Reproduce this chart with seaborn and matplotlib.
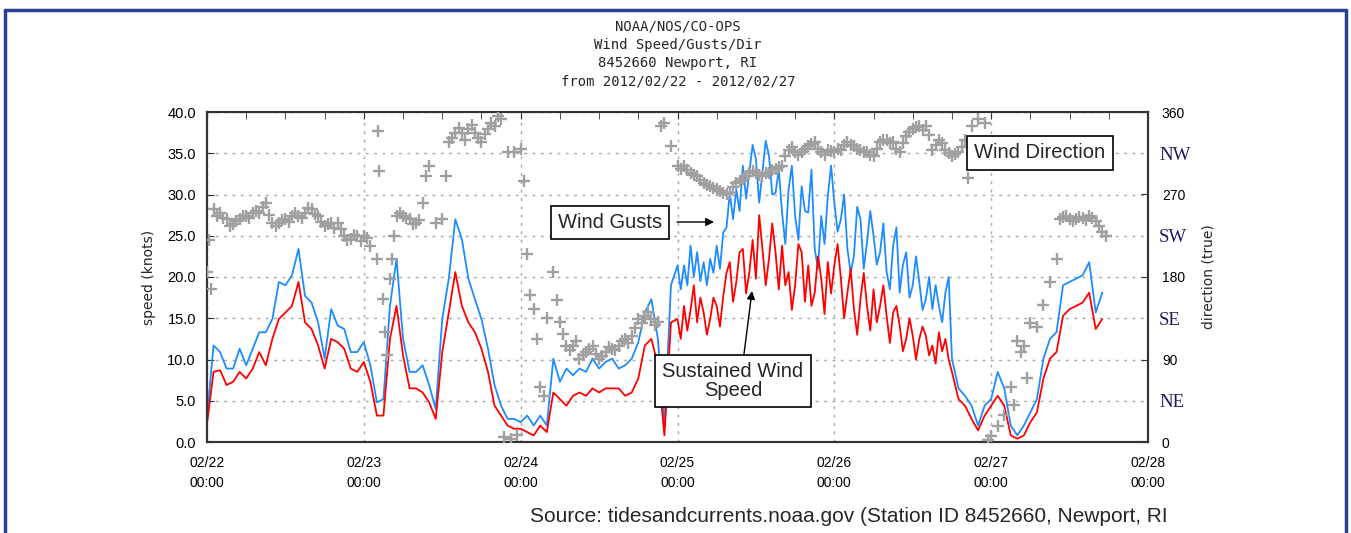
import numpy as np
import pandas as pd
import matplotlib
matplotlib.use('Agg')
import matplotlib.pyplot as plt
import matplotlib.dates as mdates
from matplotlib.lines import Line2D
import seaborn as sns

# hourly readings from 2012/02/22 00:00 (knots)
start = pd.Timestamp('2012-02-22 00:00')
gusts = [3.0, 11.7, 10.9, 8.9, 8.9, 11.3, 9.3, 11.3, 13.3, 13.3,
         14.9, 19.4, 19.0, 20.2, 23.4, 17.7, 16.9, 14.5, 10.1, 16.1,
         14.1, 13.7, 10.9, 10.9, 12.1, 9.3, 4.8, 5.2, 16.5, 22.2,
         12.5, 8.5, 8.5, 9.3, 6.9, 4.0, 14.9, 19.8, 27.0, 24.6,
         19.8, 17.3, 14.9, 11.3, 6.9, 4.4, 2.8, 2.8, 2.4, 3.2,
         2.0, 3.2, 2.0, 10.1, 7.3, 8.9, 8.1, 8.9, 8.5, 10.1,
         8.9, 9.7, 10.1, 8.9, 9.3, 10.1, 12.1, 15.7, 17.3, 12.5,
         2.0, 19.0, 21.4, 21.4, 23.8, 23.0, 21.8, 22.2, 23.8, 25.4,
         30.2, 30.6, 33.5, 32.7, 34.3, 32.7, 34.7, 30.2, 27.8, 30.6,
         27.4, 31.0, 27.8, 23.4, 27.4, 29.8, 29.0, 27.0, 23.4, 22.6,
         27.0, 24.2, 25.0, 23.0, 20.6, 23.8, 18.1, 23.0, 19.0, 19.4,
         17.3, 16.1, 16.5, 18.1, 10.1, 6.5, 5.6, 4.4, 2.0, 4.4,
         5.2, 8.5, 6.5, 2.0, 0.8, 2.0, 3.6, 5.2, 10.1, 12.5,
         13.3, 19.0, 19.4, 19.8, 20.2, 21.8, 15.7, 18.1]
sustained = [2.2, 8.5, 8.7, 6.9, 7.3, 8.5, 7.7, 8.9, 10.9, 9.3,
             12.5, 14.9, 15.7, 16.5, 19.4, 14.5, 13.7, 11.7, 8.9, 12.5,
             12.1, 11.3, 8.9, 8.5, 9.7, 7.3, 3.2, 3.2, 12.5, 16.5,
             10.5, 6.5, 6.5, 6.0, 4.8, 2.8, 10.9, 15.7, 20.6, 16.5,
             14.5, 13.3, 11.3, 8.5, 4.4, 3.2, 2.0, 1.6, 1.6, 1.2,
             0.8, 2.0, 1.2, 6.0, 5.2, 4.4, 5.6, 6.0, 5.6, 6.5,
             6.0, 6.5, 6.5, 6.5, 5.6, 6.0, 7.7, 11.7, 12.5, 9.3,
             0.8, 14.5, 14.9, 16.5, 16.0, 14.5, 15.7, 14.9, 16.5, 17.7,
             21.8, 19.4, 23.4, 20.6, 19.8, 23.4, 22.2, 23.0, 23.8, 20.6,
             19.0, 23.0, 21.4, 18.1, 19.8, 21.8, 21.4, 19.8, 18.1, 16.1,
             17.3, 16.5, 18.5, 16.5, 15.3, 15.7, 14.1, 12.5, 12.9, 12.5,
             12.9, 11.7, 13.3, 12.5, 8.5, 5.2, 4.4, 2.8, 1.4, 3.2,
             4.4, 5.6, 4.4, 0.8, 0.4, 0.8, 2.4, 3.6, 7.7, 10.1,
             10.9, 15.3, 16.1, 16.5, 16.9, 18.1, 13.7, 14.9]

# extra half-hour readings during the gusty spell, 02/25 00:30 .. 02/26 17:30
half_start = 72.5
gusts_half = [18.5, 19.0, 20.0, 19.5, 19.0, 20.5, 21.0, 26.0, 27.0, 28.0,
              29.5, 36.0, 29.0, 36.5, 30.0, 33.0, 24.0, 33.5, 24.5, 28.0,
              33.0, 21.0, 24.0, 33.5, 25.5, 30.0, 20.5, 28.5, 21.0, 28.0,
              21.5, 26.5, 18.5, 26.0, 21.5, 17.5, 22.5, 16.0, 20.0, 19.0,
              14.5, 20.0]
sustained_half = [12.5, 13.5, 19.0, 17.5, 13.0, 17.5, 14.0, 20.5, 17.0, 23.0,
                  18.0, 24.5, 27.5, 19.0, 26.5, 18.5, 19.0, 16.0, 24.0, 17.0,
                  16.5, 22.5, 15.5, 18.0, 24.0, 15.0, 21.0, 13.0, 20.5, 13.5,
                  14.5, 19.0, 12.0, 16.5, 11.0, 15.0, 10.0, 14.0, 10.5, 9.5,
                  11.0, 10.0]

# wind direction readings (hours after start, degrees true)
dir_hours = [0, 0.3, 0.6, 1, 2, 3, 4, 5, 6, 7, 8, 9, 10, 11, 12, 13, 14, 15,
             16, 17, 18, 19, 20, 21, 22, 23, 24, 25, 26, 26.2, 26.3, 27, 27.3,
             27.6, 28, 28.3, 28.6, 29, 30, 31, 32, 33, 33.5, 34, 35, 36, 36.5,
             37, 38, 39, 40, 41, 42, 43, 44, 45, 45.5, 46, 46.5, 47, 47.5, 48,
             48.5, 49, 49.5, 50, 50.5, 51, 51.5, 52, 53, 53.5, 54, 55, 56, 57,
             58, 59, 60, 61, 62, 63, 64, 65, 66, 67, 68, 69, 69.5, 70, 71, 72,
             73, 74, 75, 76, 77, 78, 79, 80, 81, 82, 83, 84, 85, 86, 87, 88,
             89, 90, 91, 92, 93, 94, 95, 96, 97, 98, 99, 100, 101, 102, 103,
             104, 105, 106, 107, 108, 109, 110, 111, 112, 113, 114, 115, 116,
             116.5, 117, 118, 119, 119.5, 120, 121, 122, 123, 123.5, 124,
             124.5, 125, 125.5, 126, 127, 128, 129, 130, 130.5, 131, 132, 133,
             134, 135, 136, 137, 137.5]
dir_deg = [185, 220, 167, 254, 250, 243, 238, 243, 247, 250, 250, 261, 239, 239,
           243, 247, 247, 250, 254, 247, 236, 239, 239, 225, 221, 225, 225, 214,
           200, 339, 296, 156, 120, 95, 178, 200, 225, 247, 247, 243, 239, 261,
           290, 301, 239, 243, 290, 327, 337, 337, 341, 337, 327, 341, 345, 352,
           5, 316, 3, 316, 8, 320, 285, 205, 160, 145, 112, 60, 50, 135, 185,
           155, 131, 105, 105, 91, 98, 105, 91, 98, 102, 105, 112, 116, 134, 138,
           134, 131, 345, 348, 323, 301, 301, 294, 290, 283, 279, 276, 272, 272,
           283, 287, 294, 294, 290, 294, 298, 301, 319, 316, 316, 323, 327, 316,
           319, 316, 319, 327, 323, 319, 316, 312, 327, 330, 327, 316, 334, 341,
           345, 345, 319, 330, 319, 312, 316, 330, 288, 345, 352, 348, 2, 7, 18,
           29, 60, 40, 110, 98, 105, 70, 130, 125, 150, 175, 200, 243, 245, 243,
           243, 244, 247, 241, 229, 225]
# additional direction readings between the hourly ones
dir_hours_extra = [1.5, 2.5, 3.5, 4.5, 5.5, 6.5, 7.5, 8.5, 9.5, 10.5, 11.5, 12.5,
                   13.5, 14.5, 15.5, 16.5, 17.5, 18.5, 19.5, 20.5, 21.5, 22.5,
                   23.5, 24.5, 29.5, 30.5, 31.5, 32.5, 37.5, 38.5, 39.5, 40.5,
                   41.5, 42.5, 43.5, 44.5, 54.5, 55.5, 56.5, 57.5, 58.5, 59.5,
                   60.5, 61.5, 62.5, 63.5, 64.5, 65.5, 66.5, 67.5, 68.5, 72.5,
                   73.5, 74.5, 75.5, 76.5, 77.5, 78.5, 79.5, 80.5, 81.5, 82.5,
                   83.5, 84.5, 85.5, 86.5, 87.5, 88.5, 89.5, 90.5, 91.5, 92.5,
                   93.5, 94.5, 95.5, 96.5, 97.5, 98.5, 99.5, 100.5, 101.5, 102.5,
                   103.5, 104.5, 105.5, 106.5, 107.5, 108.5, 109.5, 110.5, 111.5,
                   112.5, 113.5, 114.5, 115.5, 131.5, 132.5, 133.5, 134.5, 135.5,
                   136.5]
dir_deg_extra = [246, 244, 236, 241, 246, 244, 252, 256, 248, 236, 242, 240,
                 250, 244, 255, 249, 240, 238, 233, 232, 220, 226,
                 219, 222, 250, 244, 238, 242, 332, 343, 330, 346,
                 332, 336, 348, 356, 118, 100, 110, 95, 102, 96,
                 94, 104, 100, 110, 108, 124, 130, 142, 128, 298,
                 297, 291, 286, 280, 277, 274, 270, 278, 285, 290,
                 296, 291, 293, 297, 300, 312, 322, 313, 320, 325,
                 320, 313, 318, 320, 324, 324, 320, 316, 313, 320,
                 330, 326, 320, 326, 338, 344, 340, 335, 324,
                 326, 315, 314, 322, 246, 241, 245, 242, 244,
                 236]

W, H = 1351, 533
navy = '#2b3f96'


def fx(px):
    return px / W


def fy(py):
    return 1 - py / H


hourly = pd.DataFrame({'hour': np.arange(len(gusts), dtype=float),
                       'gusts': gusts, 'sustained': sustained})
halves = pd.DataFrame({'hour': half_start + np.arange(len(gusts_half)),
                       'gusts': gusts_half, 'sustained': sustained_half})
speed = pd.concat([hourly, halves]).sort_values('hour')
speed['time'] = start + pd.to_timedelta(speed['hour'], unit='h')

direction = pd.DataFrame({'hour': dir_hours + dir_hours_extra,
                          'deg': dir_deg + dir_deg_extra})
direction['time'] = start + pd.to_timedelta(direction['hour'], unit='h')

sns.set_style('white')
plt.rcParams['font.family'] = ['Liberation Sans', 'DejaVu Sans']

fig = plt.figure(figsize=(W / 100, H / 100), dpi=100)
ax = fig.add_axes([fx(207), fy(442), fx(1148) - fx(207), fy(112) - fy(442)])

sns.lineplot(data=speed, x='time', y='gusts', ax=ax, color='#1e8cff', lw=1.3)
sns.lineplot(data=speed, x='time', y='sustained', ax=ax, color='#ff0000', lw=1.3)

ax.set_xlim(pd.Timestamp('2012-02-22'), pd.Timestamp('2012-02-28'))
ax.set_ylim(0, 40)
ax.set_yticks(np.arange(0, 41, 5))
ax.yaxis.set_major_formatter(matplotlib.ticker.FormatStrFormatter('%.1f'))
ax.xaxis.set_major_locator(mdates.DayLocator())
ax.xaxis.set_minor_locator(mdates.HourLocator(byhour=[6, 12, 18]))
ax.xaxis.set_major_formatter(mdates.DateFormatter('%m/%d\n%H:%M'))
ax.set_xlabel('')
ax.set_ylabel('speed (knots)', fontsize=10, family='DejaVu Sans', labelpad=8)
ax.grid(True, which='major', color='#a8a8a8', linestyle=(0, (2, 4)), lw=1)
ax.set_axisbelow(True)
ax.tick_params(axis='x', which='both', direction='in', top=True, length=5,
               pad=10, labelsize=10, colors='#333333', labelcolor='black')
ax.tick_params(axis='y', direction='in', length=5, pad=8, labelsize=10.5,
               colors='#333333', labelcolor='black')
for lab in ax.get_xticklabels():
    lab.set_linespacing(1.6)
for sp in ax.spines.values():
    sp.set_color('#333333')
    sp.set_linewidth(1.5)

ax2 = ax.twinx()
sns.scatterplot(data=direction, x='time', y='deg', ax=ax2, marker='+',
                color='#a0a0a0', s=72, linewidth=1.7, zorder=3)
ax2.set_ylim(0, 360)
ax2.set_yticks([0, 90, 180, 270, 360])
ax2.set_yticks([45, 135, 225, 315], minor=True)
ax2.set_yticklabels(['NE', 'SE', 'SW', 'NW'], minor=True)
ax2.tick_params(axis='y', which='major', direction='in', length=5, pad=10,
                labelsize=10, colors='#333333', labelcolor='black')
ax2.tick_params(axis='y', which='minor', length=0, pad=8, labelsize=13.5,
                labelfontfamily='Liberation Serif', labelcolor='#1c1c5c')
ax2.set_ylabel('direction (true)', fontsize=10, family='DejaVu Sans', labelpad=8)
ax2.set_xlabel('')
for sp in ax2.spines.values():
    sp.set_color('#333333')
    sp.set_linewidth(1.5)

# title
for text, yy in [('NOAA/NOS/CO-OPS', 26.5), ('Wind Speed/Gusts/Dir', 45),
                 ('8452660 Newport, RI', 62.5), ('from 2012/02/22 - 2012/02/27', 81)]:
    fig.text(fx(678), fy(yy), text, ha='center', va='center',
             family='DejaVu Sans Mono', fontsize=10)

# callouts
box = dict(boxstyle='square,pad=0.35', fc='white', ec='black', lw=1.2)
fig.text(fx(610), fy(222.5), 'Wind Gusts', ha='center', va='center',
         fontsize=14.5, bbox=box)
fig.text(fx(1040), fy(153), 'Wind Direction', ha='center', va='center',
         fontsize=14.5, bbox=box)
fig.text(fx(733), fy(381), 'Sustained Wind\nSpeed', ha='center', va='center',
         fontsize=14.5, multialignment='center', linespacing=1.05, bbox=box)
arrow = dict(arrowstyle='-|>', color='black', lw=1, mutation_scale=12,
             shrinkA=0, shrinkB=0)
fig.add_artist(matplotlib.patches.FancyArrowPatch(
    (fx(677), fy(222)), (fx(714), fy(222)), transform=fig.transFigure, **arrow))
fig.add_artist(matplotlib.patches.FancyArrowPatch(
    (fx(744), fy(354)), (fx(752), fy(291)), transform=fig.transFigure, **arrow))

fig.text(fx(530), fy(516), 'Source: tidesandcurrents.noaa.gov (Station ID 8452660, Newport, RI',
         ha='left', va='center', fontsize=15)

# page frame
for xs, ys in [([5, 5], [533, 10]), ([5, 1346], [10, 10]), ([1346, 1346], [10, 533])]:
    fig.add_artist(Line2D([fx(x) for x in xs], [fy(y) for y in ys], color=navy, lw=2.5))

fig.savefig('out.png', dpi=100)
